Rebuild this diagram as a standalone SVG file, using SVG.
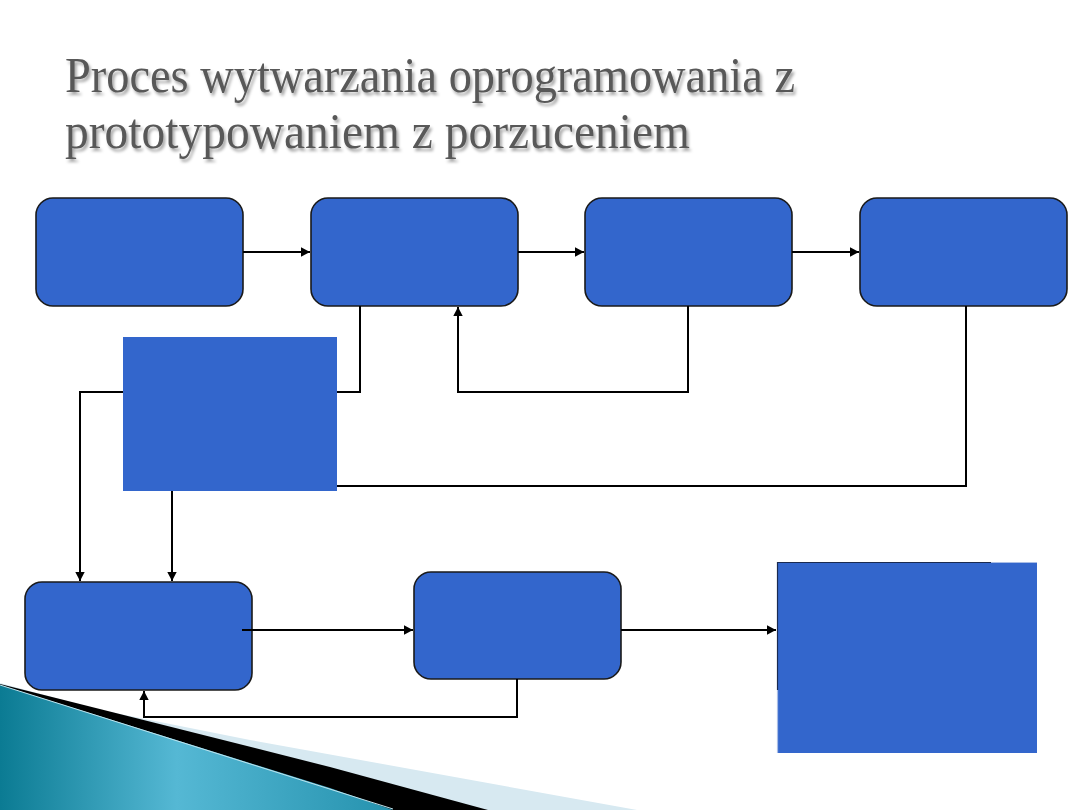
<svg xmlns="http://www.w3.org/2000/svg" width="1080" height="810" viewBox="0 0 1080 810">
<defs>
<style>
.box{fill:#3366cc;stroke:#1a1a1a;stroke-width:1.6}
.blk{fill:#3366cc}
.ln{fill:none;stroke:#000;stroke-width:2}
.arr{marker-end:url(#ah)}
.title{font-family:"Liberation Serif","Times New Roman",serif;font-size:50px;fill:#595959;filter:url(#sh)}
</style>
<marker id="ah" markerUnits="userSpaceOnUse" markerWidth="11" markerHeight="11" refX="9" refY="5" orient="auto">
<path d="M0,0.3 L9,5 L0,9.7 z" fill="#000"/>
</marker>
<filter id="sh" x="-5%" y="-20%" width="110%" height="150%">
<feDropShadow dx="2" dy="3" stdDeviation="1.5" flood-color="#000" flood-opacity="0.35"/>
</filter>
<linearGradient id="teal" x1="0" y1="0" x2="1" y2="0">
<stop offset="0" stop-color="#0b7b93"/>
<stop offset="0.45" stop-color="#55b8d4"/>
<stop offset="1" stop-color="#2592ae"/>
</linearGradient>
</defs>
<rect width="1080" height="810" fill="#fff"/>
<g id="decoration">
<polygon points="0,683 100,710 250,740 637,810 0,810" fill="#d7e9f1"/>
<polygon points="0,684 60,699 330,767 488,810 0,810" fill="#000"/>
<polygon points="0,685 330,788 393,810 0,810" fill="url(#teal)"/>
<line x1="0" y1="685" x2="393" y2="809" stroke="#bfe4ee" stroke-width="1"/>
</g>
<g id="title">
<text class="title" x="65" y="92" textLength="730" lengthAdjust="spacingAndGlyphs">Proces wytwarzania oprogramowania z</text>
<text class="title" x="65" y="148" textLength="625" lengthAdjust="spacingAndGlyphs">prototypowaniem z porzuceniem</text>
</g>
<g id="node1"><rect class="box" x="36" y="198" width="207" height="108" rx="17"/></g>
<g id="node2"><rect class="box" x="311" y="198" width="207" height="108" rx="17"/></g>
<g id="node3"><rect class="box" x="585" y="198" width="207" height="108" rx="17"/></g>
<g id="node4"><rect class="box" x="860" y="198" width="207" height="108" rx="17"/></g>
<g id="node5"><rect class="blk" x="123" y="337" width="214" height="154"/></g>
<g id="node6"><rect class="box" x="25" y="582" width="227" height="108" rx="17"/></g>
<g id="node7"><rect class="box" x="414" y="572" width="207" height="107" rx="17"/></g>
<g id="node8">
<rect class="blk" x="777" y="562" width="260" height="191"/>
<line x1="777" y1="562.5" x2="991" y2="562.5" stroke="#1a2a50" stroke-width="1.2"/>
<line x1="991" y1="562.5" x2="1037" y2="562.5" stroke="#a9bde6" stroke-width="1.2"/>
<line x1="777.5" y1="562" x2="777.5" y2="690" stroke="#1a2a50" stroke-width="1.2"/>
<line x1="777.5" y1="690" x2="777.5" y2="753" stroke="#a9bde6" stroke-width="1.2"/>
</g>
<g id="connectors">
<path class="ln arr" d="M243,252 H310"/>
<path class="ln arr" d="M518,252 H584"/>
<path class="ln arr" d="M792,252 H859"/>
<path class="ln" d="M360,306 V392 H337"/>
<path class="ln arr" d="M123,392 H80 V581"/>
<path class="ln arr" d="M688,306 V392 H458 V307"/>
<path class="ln" d="M966,306 V486 H337"/>
<path class="ln arr" d="M172,491 V581"/>
<path class="ln arr" d="M242,630 H413"/>
<path class="ln arr" d="M621,630 H776"/>
<path class="ln arr" d="M517,679 V717 H144 V691"/>
</g>
</svg>
